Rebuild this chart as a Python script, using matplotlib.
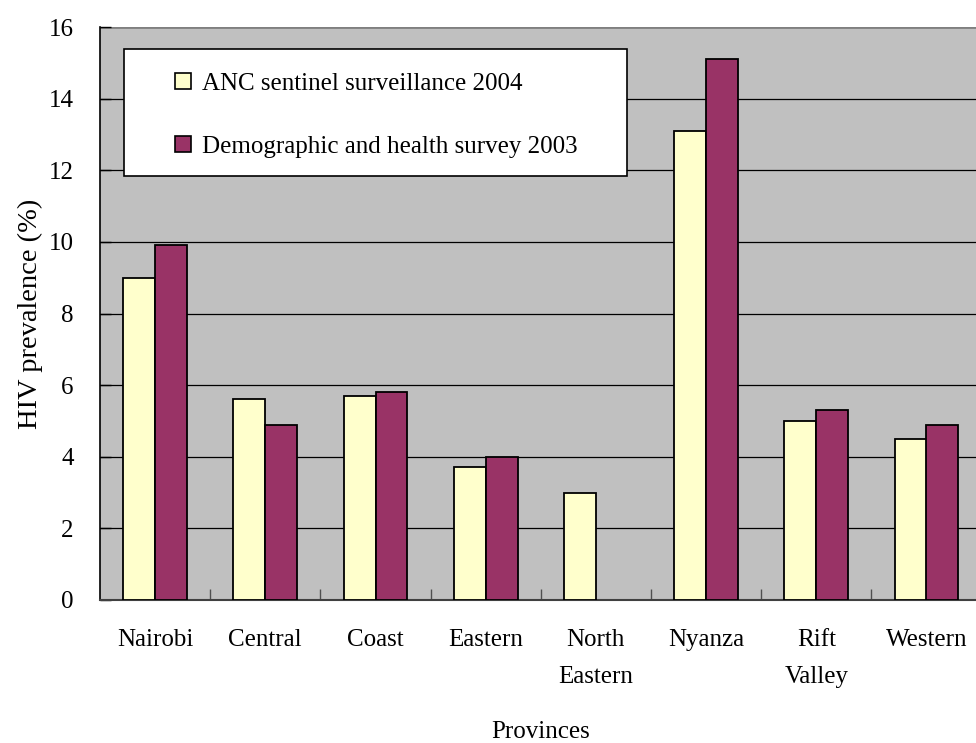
import matplotlib
matplotlib.use("Agg")
import matplotlib.pyplot as plt
import numpy as np
from matplotlib.patches import Patch, Rectangle

provinces = ["Nairobi", "Central", "Coast", "Eastern", "North\nEastern",
             "Nyanza", "Rift\nValley", "Western"]
anc_2004 = [9.0, 5.6, 5.7, 3.7, 3.0, 13.1, 5.0, 4.5]
dhs_2003 = [9.9, 4.9, 5.8, 4.0, np.nan, 15.1, 5.3, 4.9]
series_labels = ["ANC sentinel surveillance 2004",
                 "Demographic and health survey 2003"]
y_ticks = [0, 2, 4, 6, 8, 10, 12, 14, 16]

plt.rcParams["font.family"] = ["Liberation Serif", "DejaVu Serif"]

W, H = 976, 743
fig = plt.figure(figsize=(W / 100, H / 100), dpi=100)
ax = fig.add_axes([100 / W, 1 - 600 / H, 881.6 / W, 573 / H])

yellow = "#FFFFCC"
purple = "#993366"
width = 0.29
x = np.arange(len(provinces)) + 0.5

ax.set_facecolor("#C0C0C0")
ax.set_xlim(0, len(provinces))
ax.set_ylim(0, 16)

# horizontal gridlines
for t in y_ticks[1:-1]:
    ax.axhline(t, color="black", lw=0.9, zorder=1)
ax.axhline(16, color="#808080", lw=2.0, zorder=1)

ax.bar(x - width / 2, anc_2004, width, color=yellow, edgecolor="black",
       linewidth=1.3, zorder=3)
ax.bar(x + width / 2, dhs_2003, width, color=purple, edgecolor="black",
       linewidth=1.3, zorder=3)

for side in ["top", "right"]:
    ax.spines[side].set_visible(False)
ax.spines["left"].set_color("black")
ax.spines["left"].set_linewidth(1.2)
ax.spines["bottom"].set_color("#404040")
ax.spines["bottom"].set_linewidth(1.5)

ax.set_yticks(y_ticks)
ax.set_yticklabels([str(t) for t in y_ticks], fontsize=18)
ax.tick_params(axis="y", direction="in", length=8, width=1, color="black", pad=19)

# category labels at centres, tick marks at category boundaries
ax.set_xticks(np.arange(1, len(provinces)))
ax.set_xticklabels([])
ax.tick_params(axis="x", which="major", direction="in", length=8, width=1,
               color="#505050")
ax.set_xticks(x, minor=True)
ax.set_xticklabels(provinces, minor=True, fontsize=18, linespacing=1.85)
ax.tick_params(axis="x", which="minor", length=0, pad=21)

ax.set_ylabel("HIV prevalence (%)", fontsize=20.5, labelpad=4)
ax.set_xlabel("Provinces", fontsize=18, labelpad=24)

# legend box
box = Rectangle((124 / W, 1 - 176 / H), 503 / W, 127 / H,
                transform=fig.transFigure, facecolor="white",
                edgecolor="black", linewidth=1.2, zorder=4)
fig.patches.append(box)

handles = [Patch(facecolor=yellow, edgecolor="black", linewidth=1.2),
           Patch(facecolor=purple, edgecolor="black", linewidth=1.2)]
leg = fig.legend(handles, series_labels, loc="upper left",
                 bbox_to_anchor=(175 / W, 1 - 73 / H),
                 bbox_transform=fig.transFigure,
                 fontsize=18, frameon=False,
                 handlelength=0.62, handleheight=0.62,
                 handletextpad=0.45, labelspacing=1.62, borderpad=0,
                 borderaxespad=0)
leg.set_zorder(5)

fig.savefig("out.png", dpi=100)
